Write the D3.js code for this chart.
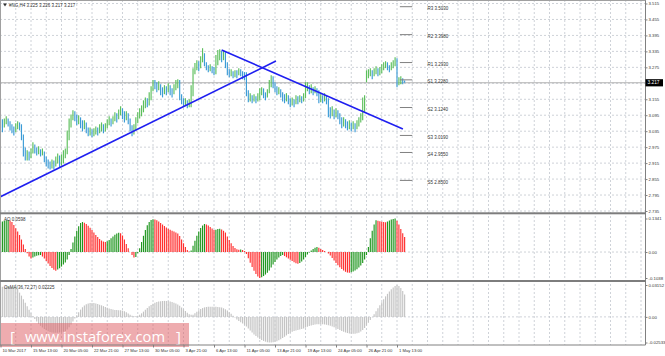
<!DOCTYPE html>
<html><head><meta charset="utf-8">
<script src="https://cdn.jsdelivr.net/npm/d3@7/dist/d3.min.js"></script>
<style>body{margin:0;background:#fff}svg{display:block}</style>
</head><body>
<script>
// ---------- DATA ----------
const firstOpen = 3.076;
const closes = [3.068,3.057,3.072,3.080,3.068,3.053,3.046,3.038,3.049,3.061,
3.053,3.019,2.970,2.944,2.951,2.940,2.955,2.978,2.967,2.959,
2.963,2.951,2.955,2.933,2.918,2.910,2.902,2.914,2.906,2.925,
2.933,2.918,2.925,2.944,2.955,3.008,3.057,3.083,3.098,3.087,
3.072,3.080,3.061,3.049,3.061,3.042,3.031,3.034,3.023,3.031,
3.042,3.034,3.046,3.053,3.042,3.049,3.065,3.076,3.068,3.080,
3.091,3.083,3.102,3.114,3.098,3.083,3.095,3.076,3.049,3.031,
3.046,3.072,3.091,3.102,3.114,3.129,3.147,3.140,3.159,3.189,
3.211,3.208,3.196,3.204,3.189,3.181,3.193,3.185,3.200,3.189,
3.178,3.196,3.208,3.211,3.170,3.151,3.140,3.147,3.136,3.144,
3.170,3.257,3.272,3.287,3.279,3.302,3.321,3.291,3.276,3.268,
3.276,3.264,3.257,3.294,3.317,3.325,3.313,3.321,3.287,3.260,
3.249,3.257,3.245,3.253,3.249,3.260,3.253,3.245,3.238,3.181,
3.155,3.162,3.151,3.159,3.151,3.162,3.181,3.189,3.174,3.166,
3.181,3.208,3.230,3.215,3.196,3.181,3.189,3.174,3.162,3.155,
3.166,3.151,3.140,3.147,3.136,3.155,3.147,3.159,3.151,3.162,
3.196,3.204,3.189,3.196,3.185,3.193,3.178,3.151,3.162,3.155,
3.166,3.151,3.114,3.098,3.110,3.091,3.106,3.095,3.076,3.061,
3.072,3.065,3.053,3.061,3.049,3.057,3.046,3.061,3.072,3.087,
3.114,3.155,3.242,3.253,3.257,3.245,3.257,3.264,3.253,3.260,
3.272,3.279,3.287,3.276,3.268,3.279,3.287,3.298,3.215,3.227,
3.230,3.225,3.217];
const highs = [3.091,3.080,3.083,3.091,3.083,3.072,3.061,3.053,3.065,3.072,
3.068,3.061,3.023,2.974,2.963,2.959,2.970,2.993,2.985,2.974,
2.978,2.967,2.970,2.959,2.940,2.929,2.921,2.929,2.925,2.940,
2.951,2.944,2.948,2.963,2.970,3.038,3.083,3.098,3.114,3.110,
3.098,3.095,3.087,3.076,3.076,3.068,3.049,3.049,3.042,3.046,
3.053,3.049,3.061,3.068,3.061,3.065,3.080,3.091,3.083,3.091,
3.106,3.102,3.117,3.129,3.121,3.110,3.110,3.102,3.083,3.057,
3.061,3.087,3.106,3.121,3.132,3.151,3.162,3.159,3.181,3.204,
3.227,3.227,3.219,3.223,3.211,3.200,3.208,3.204,3.215,3.208,
3.196,3.211,3.227,3.230,3.227,3.174,3.159,3.159,3.151,3.155,
3.208,3.272,3.291,3.302,3.298,3.317,3.347,3.328,3.294,3.283,
3.287,3.279,3.276,3.321,3.340,3.343,3.336,3.340,3.332,3.294,
3.268,3.268,3.260,3.264,3.264,3.272,3.268,3.260,3.257,3.257,
3.189,3.178,3.170,3.174,3.166,3.178,3.196,3.200,3.196,3.181,
3.193,3.227,3.245,3.242,3.219,3.204,3.200,3.193,3.181,3.174,
3.178,3.170,3.159,3.162,3.155,3.170,3.166,3.170,3.166,3.178,
3.219,3.219,3.208,3.211,3.200,3.204,3.196,3.189,3.178,3.170,
3.178,3.170,3.159,3.125,3.129,3.117,3.121,3.114,3.102,3.087,
3.087,3.080,3.072,3.076,3.068,3.072,3.065,3.076,3.087,3.102,
3.162,3.170,3.264,3.268,3.272,3.264,3.272,3.279,3.272,3.276,
3.287,3.294,3.298,3.294,3.283,3.294,3.302,3.313,3.309,3.238,
3.242,3.234,3.226];
const lows = [3.046,3.031,3.049,3.061,3.053,3.038,3.027,3.019,3.031,3.042,
3.038,3.001,2.940,2.925,2.925,2.925,2.933,2.951,2.951,2.944,
2.948,2.940,2.944,2.918,2.902,2.895,2.891,2.895,2.891,2.902,
2.914,2.899,2.906,2.914,2.933,2.948,3.001,3.049,3.076,3.072,
3.057,3.061,3.046,3.034,3.042,3.027,3.016,3.019,3.012,3.016,
3.023,3.019,3.027,3.034,3.027,3.034,3.046,3.057,3.053,3.061,
3.072,3.068,3.080,3.095,3.080,3.068,3.076,3.061,3.034,3.016,
3.023,3.038,3.065,3.083,3.091,3.106,3.121,3.125,3.132,3.151,
3.185,3.193,3.181,3.189,3.170,3.162,3.174,3.170,3.181,3.170,
3.162,3.174,3.189,3.196,3.151,3.136,3.125,3.129,3.121,3.125,
3.125,3.166,3.249,3.264,3.260,3.272,3.294,3.279,3.264,3.257,
3.260,3.253,3.245,3.249,3.283,3.302,3.294,3.302,3.272,3.245,
3.238,3.242,3.234,3.238,3.234,3.245,3.242,3.230,3.227,3.166,
3.144,3.147,3.140,3.147,3.140,3.147,3.151,3.170,3.159,3.151,
3.162,3.178,3.200,3.196,3.181,3.170,3.174,3.162,3.147,3.140,
3.147,3.136,3.125,3.132,3.125,3.136,3.136,3.144,3.140,3.147,
3.159,3.185,3.174,3.178,3.170,3.178,3.166,3.140,3.144,3.140,
3.147,3.136,3.087,3.083,3.091,3.080,3.087,3.080,3.061,3.046,
3.053,3.046,3.038,3.042,3.034,3.042,3.031,3.042,3.053,3.068,
3.076,3.106,3.219,3.234,3.242,3.230,3.242,3.249,3.242,3.245,
3.253,3.264,3.272,3.264,3.257,3.264,3.272,3.279,3.200,3.208,
3.211,3.211,3.217];
const ao = [0.118,0.122,0.125,0.127,0.128,0.126,0.120,0.108,0.095,0.082,
0.068,0.050,0.030,0.012,-0.005,-0.018,-0.026,-0.022,-0.018,-0.015,
-0.013,-0.012,-0.018,-0.026,-0.036,-0.046,-0.056,-0.064,-0.071,-0.075,
-0.070,-0.065,-0.058,-0.050,-0.042,-0.030,-0.012,0.012,0.038,0.062,
0.085,0.103,0.116,0.120,0.117,0.112,0.105,0.097,0.088,0.078,
0.068,0.060,0.052,0.046,0.042,0.040,0.043,0.048,0.055,0.062,
0.069,0.074,0.077,0.075,0.066,0.050,0.032,0.015,0.000,-0.012,
-0.022,-0.020,-0.005,0.015,0.040,0.065,0.088,0.107,0.120,0.128,
0.131,0.130,0.127,0.122,0.116,0.110,0.104,0.098,0.093,0.089,
0.085,0.082,0.078,0.074,0.064,0.050,0.035,0.020,0.008,0.002,
0.006,0.025,0.045,0.065,0.082,0.096,0.106,0.112,0.110,0.106,
0.100,0.094,0.088,0.089,0.092,0.093,0.090,0.085,0.078,0.062,
0.048,0.035,0.024,0.016,0.011,0.009,0.010,0.008,0.004,-0.008,
-0.025,-0.043,-0.060,-0.075,-0.088,-0.098,-0.1038,-0.101,-0.096,-0.090,
-0.083,-0.074,-0.062,-0.050,-0.040,-0.030,-0.022,-0.016,-0.012,-0.016,
-0.021,-0.026,-0.031,-0.036,-0.041,-0.045,-0.047,-0.044,-0.038,-0.030,
-0.020,-0.010,-0.002,0.006,0.012,0.017,0.020,0.017,0.012,0.008,
0.004,0.000,-0.006,-0.014,-0.024,-0.034,-0.044,-0.053,-0.061,-0.068,
-0.074,-0.079,-0.082,-0.083,-0.081,-0.078,-0.074,-0.069,-0.062,-0.054,
-0.044,-0.030,-0.012,0.020,0.055,0.085,0.110,0.127,0.125,0.123,
0.121,0.120,0.119,0.122,0.126,0.130,0.132,0.1341,0.125,0.110,
0.092,0.075,0.0598];
const osma = [0.0295,0.0297,0.0299,0.0300,0.0300,0.0298,0.0295,0.0290,0.0283,0.0265,
0.0240,0.0210,0.0175,0.0140,0.0105,0.0070,0.0035,0.0005,-0.0020,-0.0045,
-0.0068,-0.0088,-0.0105,-0.0120,-0.0132,-0.0142,-0.0149,-0.0154,-0.0157,-0.0158,
-0.0157,-0.0155,-0.0152,-0.0148,-0.0140,-0.0125,-0.0102,-0.0075,-0.0045,-0.0015,
0.0015,0.0045,0.0072,0.0095,0.0113,0.0125,0.0133,0.0137,0.0138,0.0136,
0.0132,0.0127,0.0121,0.0114,0.0106,0.0098,0.0090,0.0083,0.0077,0.0072,
0.0069,0.0067,0.0066,0.0065,0.0062,0.0055,0.0045,0.0033,0.0020,0.0010,
0.0005,0.0005,0.0010,0.0020,0.0035,0.0052,0.0070,0.0088,0.0104,0.0118,
0.0130,0.0140,0.0147,0.0152,0.0155,0.0157,0.0158,0.0157,0.0155,0.0151,
0.0146,0.0140,0.0132,0.0123,0.0110,0.0093,0.0075,0.0057,0.0040,0.0027,
0.0020,0.0022,0.0035,0.0050,0.0065,0.0077,0.0087,0.0094,0.0098,0.0100,
0.0101,0.0101,0.0100,0.0099,0.0098,0.0096,0.0092,0.0085,0.0075,0.0062,
0.0046,0.0030,0.0012,-0.0007,-0.0025,-0.0040,-0.0053,-0.0065,-0.0078,-0.0095,
-0.0115,-0.0135,-0.0155,-0.0173,-0.0190,-0.0205,-0.0218,-0.0229,-0.0238,-0.0245,
-0.0250,-0.02533,-0.0253,-0.0251,-0.0246,-0.0240,-0.0232,-0.0222,-0.0210,-0.0197,
-0.0183,-0.0170,-0.0158,-0.0148,-0.0140,-0.0134,-0.0130,-0.0126,-0.0121,-0.0114,
-0.0106,-0.0098,-0.0091,-0.0085,-0.0080,-0.0076,-0.0073,-0.0072,-0.0072,-0.0073,
-0.0075,-0.0078,-0.0082,-0.0088,-0.0095,-0.0103,-0.0112,-0.0121,-0.0130,-0.0139,
-0.0147,-0.0154,-0.0160,-0.0164,-0.0167,-0.0168,-0.0167,-0.0163,-0.0156,-0.0145,
-0.0130,-0.0110,-0.0085,-0.0058,-0.0030,-0.0003,0.0025,0.0055,0.0085,0.0115,
0.0145,0.0175,0.0203,0.0228,0.0250,0.0272,0.0290,0.0305,0.03152,0.0305,
0.0285,0.0255,0.02225];
const timeLabels = ["10 Mar 2017","15 Mar 13:00","20 Mar 05:00","22 Mar 21:00","27 Mar 13:00","30 Mar 05:00","3 Apr 21:00","6 Apr 13:00","11 Apr 05:00","13 Apr 21:00","19 Apr 13:00","24 Apr 05:00","26 Apr 21:00","1 May 13:00"];
const timeLabelBars = [0,16,32,48,64,80,96,112,128,144,160,176,192,208];
const priceTicks = [3.515,3.455,3.395,3.335,3.275,3.215,3.155,3.095,3.035,2.975,2.915,2.855,2.795,2.735];
const pivotNames = ["R3","R2","R1","S1","S2","S3","S4","S5"];
const pivotValues = [3.5030,3.3980,3.2930,3.2280,3.1240,3.0190,2.9550,2.8500];
const trendUp = [[-0.3,2.7876],[144.5,3.2989]];
const trendDown = [[116.0,3.3402],[211.1,3.0432]];
const aoTicks = [0.1341,0,-0.1038];
const aoTickLabels = ["0.1341","0.00","-0.1038"];
const osmaTicks = [0.03152,0,-0.02533];
const osmaTickLabels = ["0.03152","0.00","-0.02533"];
const titleText = "#NG,H4  3.225 3.226 3.217 3.217";
const aoLabel = "AO 0.0598";
const osmaLabel = "OsMA(36,72,27) 0.02225";

// ---------- DRAW ----------
const W = 665, H = 356;
const FONT = "'Liberation Sans', Arial, sans-serif";
const svg = d3.select("body").append("svg").attr("width", W).attr("height", H);
svg.append("rect").attr("width", W).attr("height", H).attr("fill", "#fff");

const N = closes.length;
const x = d3.scaleLinear().domain([0, 208]).range([0.5, 397]);
const yP = d3.scaleLinear().domain([2.735, 3.515]).range([211, 3.5]);
const yA = d3.scaleLinear().domain([-0.1038, 0.1341]).range([278, 218.5]);
const yO = d3.scaleLinear().domain([-0.02533, 0.03152]).range([342.5, 285]);
const axisX = 645.5, bottomY = 345;

const gridColor = "#c2c6ce";
// vertical grid
const vgrid = d3.range(8, 337, 8);
svg.append("g").selectAll("line").data(vgrid).join("line")
  .attr("x1", d => x(d)).attr("x2", d => x(d)).attr("y1", 0).attr("y2", bottomY)
  .attr("stroke", gridColor).attr("stroke-width", 0.8).attr("stroke-dasharray", "2,2");
// horizontal grid main
svg.append("g").selectAll("line").data(priceTicks).join("line")
  .attr("x1", 0).attr("x2", axisX).attr("y1", d => yP(d)).attr("y2", d => yP(d))
  .attr("stroke", gridColor).attr("stroke-width", 0.8).attr("stroke-dasharray", "2,2");
// zero grids
[[yA, 0], [yO, 0]].forEach(([s, v]) => {
  svg.append("line").attr("x1", 0).attr("x2", axisX).attr("y1", s(v)).attr("y2", s(v))
    .attr("stroke", gridColor).attr("stroke-width", 0.8).attr("stroke-dasharray", "2,2");
});

// bid line
svg.append("line").attr("x1", 0).attr("x2", axisX)
  .attr("y1", yP(closes[N-1])).attr("y2", yP(closes[N-1]))
  .attr("stroke", "#a8a8a8").attr("stroke-width", 0.9);

// candles as lines
const bars = d3.range(N).map(i => ({i, h: highs[i], l: lows[i], c: closes[i], o: i === 0 ? firstOpen : closes[i-1]}));
svg.append("g").selectAll("line").data(bars).join("line")
  .attr("x1", d => x(d.i)).attr("x2", d => x(d.i))
  .attr("y1", d => yP(d.h)).attr("y2", d => yP(d.l))
  .attr("stroke", d => d.c >= d.o ? "#5cbf5c" : "#3b9bd6").attr("stroke-width", 1.15);

// trend lines
const line = d3.line().x(d => x(d[0])).y(d => yP(d[1]));
[trendUp, trendDown].forEach(t => svg.append("path").attr("d", line(t))
  .attr("stroke", "#1f1ff0").attr("stroke-width", 1.6).attr("fill", "none"));

// pivots
const pv = pivotNames.map((n, k) => ({n, v: pivotValues[k]}));
svg.append("g").selectAll("line").data(pv).join("line")
  .attr("x1", x(209.5)).attr("x2", x(216)).attr("y1", d => yP(d.v)).attr("y2", d => yP(d.v))
  .attr("stroke", "#808080").attr("stroke-width", 1);
svg.append("g").selectAll("text").data(pv).join("text")
  .attr("x", x(224)).attr("y", d => yP(d.v) + 3.6)
  .attr("font-family", FONT).attr("font-size", 4.5).attr("fill", "#333")
  .text(d => d.n + " " + d.v.toFixed(4));

// AO histogram
const aoBars = ao.map((v, i) => ({i, v, up: i === 0 ? true : v > ao[i-1]}));
svg.append("g").selectAll("line").data(aoBars).join("line")
  .attr("x1", d => x(d.i)).attr("x2", d => x(d.i))
  .attr("y1", yA(0)).attr("y2", d => yA(d.v))
  .attr("stroke", d => d.up ? "#1f961f" : "#ff2e2e").attr("stroke-width", 1.15);

// OsMA histogram
svg.append("g").selectAll("line").data(osma).join("line")
  .attr("x1", (d, i) => x(i)).attr("x2", (d, i) => x(i))
  .attr("y1", yO(0)).attr("y2", d => yO(d))
  .attr("stroke", "#c4c4c4").attr("stroke-width", 1.15);

// watermark
const wm = svg.append("g");
wm.append("rect").attr("x", 0).attr("y", 323).attr("width", 189).attr("height", 24)
  .attr("fill", "rgb(222,90,95)").attr("opacity", 0.5);
const WMF = "'Open Sans', " + FONT;
wm.append("text").attr("x", 10).attr("y", 341.5).attr("font-family", WMF)
  .attr("font-size", 15).attr("fill", "#fff").text("[");
wm.append("text").attr("x", 25).attr("y", 341.5).attr("font-family", WMF)
  .attr("font-size", 14.6).attr("fill", "#fff").attr("textLength", 140).attr("lengthAdjust", "spacingAndGlyphs")
  .text("www.instaforex.com");
wm.append("text").attr("x", 176).attr("y", 341.5).attr("font-family", WMF)
  .attr("font-size", 15).attr("fill", "#fff").text("]");

// frame & separators
svg.append("line").attr("x1", axisX).attr("x2", axisX).attr("y1", 0).attr("y2", bottomY)
  .attr("stroke", "#808080").attr("stroke-width", 1);
svg.append("line").attr("x1", 0.5).attr("x2", 0.5).attr("y1", 0).attr("y2", bottomY)
  .attr("stroke", "#a0a0a0").attr("stroke-width", 1);
svg.append("line").attr("x1", 0).attr("x2", axisX).attr("y1", 0.5).attr("y2", 0.5)
  .attr("stroke", "#a0a0a0").attr("stroke-width", 1);
[213.3, 281].forEach(yy => svg.append("rect").attr("x", 0).attr("y", yy - 1).attr("width", axisX + 0.5).attr("height", 2)
  .attr("fill", "#7d7d7d"));
svg.append("line").attr("x1", 0).attr("x2", axisX).attr("y1", bottomY).attr("y2", bottomY)
  .attr("stroke", "#808080").attr("stroke-width", 1);

// price axis
const styleAxis = g => {
  g.select(".domain").remove();
  g.selectAll(".tick line").attr("stroke", "#808080");
  g.selectAll(".tick text").attr("font-family", FONT).attr("font-size", 4.3).attr("fill", "#333");
};
svg.append("g").attr("transform", `translate(${axisX},0)`)
  .call(d3.axisRight(yP).tickValues(priceTicks).tickSize(2).tickPadding(1).tickFormat(d3.format(".3f")))
  .call(styleAxis);
svg.append("g").attr("transform", `translate(${axisX},0)`)
  .call(d3.axisRight(yA).tickValues(aoTicks).tickSize(2).tickPadding(1).tickFormat((d, k) => aoTickLabels[k]))
  .call(styleAxis);
svg.append("g").attr("transform", `translate(${axisX},0)`)
  .call(d3.axisRight(yO).tickValues(osmaTicks).tickSize(2).tickPadding(1).tickFormat((d, k) => osmaTickLabels[k]))
  .call(styleAxis);

// current price box
const cy = yP(closes[N-1]);
svg.append("rect").attr("x", axisX).attr("y", cy - 3.6).attr("width", 17.5).attr("height", 7.2).attr("fill", "#000");
svg.append("text").attr("x", axisX + 2).attr("y", cy + 1.7).attr("font-family", FONT).attr("font-size", 4.8)
  .attr("fill", "#fff").text(closes[N-1].toFixed(3));

// time axis
const tAxis = svg.append("g").attr("transform", `translate(0,${bottomY})`)
  .call(d3.axisBottom(x).tickValues(timeLabelBars).tickSize(2.5).tickPadding(2).tickFormat((d, k) => timeLabels[k]));
tAxis.select(".domain").remove();
tAxis.selectAll(".tick line").attr("stroke", "#808080");
tAxis.selectAll(".tick text").attr("text-anchor", "start").attr("dx", 1.5).attr("dy", "0.6em")
  .attr("font-family", FONT).attr("font-size", 4.2).attr("fill", "#333");

// titles
svg.append("path").attr("d", "M3,3.5 L7,3.5 L5,6.5 Z").attr("fill", "#333");
svg.append("text").attr("x", 9).attr("y", 6.6).attr("font-family", FONT).attr("font-size", 4.5).attr("fill", "#333").text(titleText);
svg.append("text").attr("x", 4).attr("y", 221).attr("font-family", FONT).attr("font-size", 4.5).attr("fill", "#333").text(aoLabel);
svg.append("text").attr("x", 4).attr("y", 288.5).attr("font-family", FONT).attr("font-size", 4.5).attr("fill", "#333").text(osmaLabel);
</script>
</body></html>
